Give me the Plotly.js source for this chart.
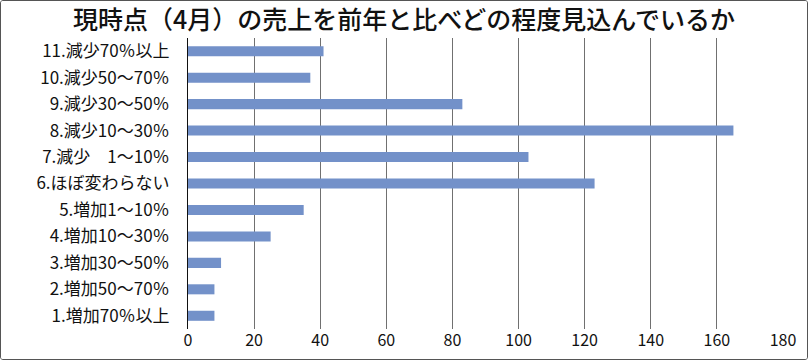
<!DOCTYPE html>
<html>
<head>
<meta charset="utf-8">
<script src="https://cdn.plot.ly/plotly-3.0.1.min.js"></script>
<style>
html,body{margin:0;padding:0;background:#fff;}
#frame{width:808px;height:360px;box-sizing:border-box;border:1px solid #555;border-radius:3px;overflow:hidden;}
#chart{width:806px;height:358px;}
</style>
</head>
<body>
<div id="frame"><div id="chart"></div></div>
<script>
const chartTitle = "現時点（4月）の売上を前年と比べどの程度見込んでいるか";
const categories = [
  "1.増加70％以上",
  "2.増加50～70％",
  "3.増加30～50％",
  "4.増加10～30％",
  "5.増加1～10％",
  "6.ほぼ変わらない",
  "7.減少　1～10％",
  "8.減少10～30％",
  "9.減少30～50％",
  "10.減少50～70％",
  "11.減少70％以上"
];
const values = [8, 8, 10, 25, 35, 123, 103, 165, 83, 37, 41];
const xTicks = [0, 20, 40, 60, 80, 100, 120, 140, 160, 180];

const font = "'Noto Sans CJK JP', 'Noto Sans', sans-serif";

Plotly.newPlot("chart", [{
  type: "bar",
  orientation: "h",
  y: categories,
  x: values,
  marker: {color: "#7391c9", line: {width: 0}},
  hoverinfo: "none"
}], {
  width: 806,
  height: 358,
  margin: {l: 187, r: 24, t: 37, b: 30, pad: 0},
  paper_bgcolor: "#fff",
  plot_bgcolor: "#fff",
  bargap: 0.62,
  showlegend: false,
  title: {
    text: chartTitle,
    x: 0.5, xanchor: "center",
    yref: "container",
    y: 0.945, yanchor: "middle",
    font: {family: font, size: 25, color: "#111", weight: 500}
  },
  xaxis: {
    range: [0, 180],
    tickvals: xTicks,
    ticktext: xTicks.map(String),
    showgrid: true,
    gridcolor: "#707070",
    gridwidth: 1,
    zeroline: false,
    showline: false,
    ticks: "",
    tickfont: {family: font, size: 16, color: "#111"},
    fixedrange: true
  },
  yaxis: {
    type: "category",
    categoryorder: "array",
    categoryarray: categories,
    showgrid: false,
    zeroline: false,
    showline: true,
    linecolor: "#111",
    linewidth: 1,
    ticks: "",
    ticklabelstandoff: 14,
    tickfont: {family: font, size: 17, color: "#111"},
    fixedrange: true
  }
}, {displayModeBar: false, staticPlot: true});
</script>
</body>
</html>
